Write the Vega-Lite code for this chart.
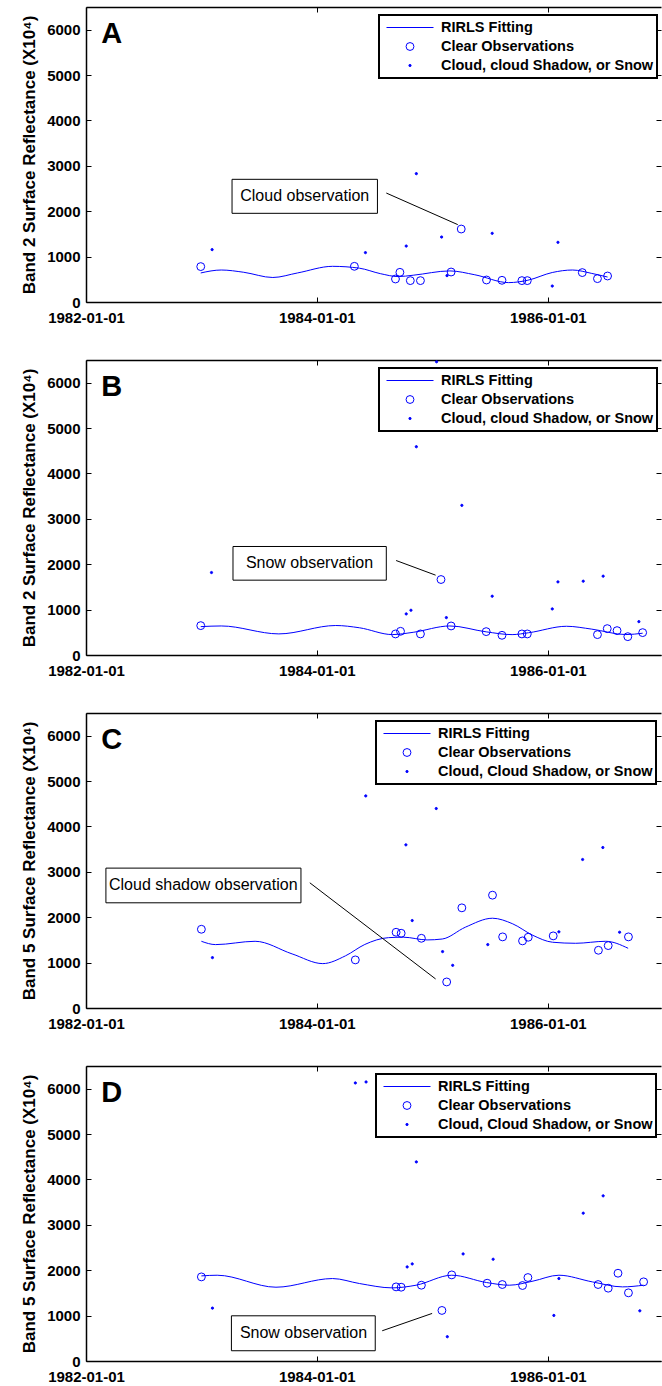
{
  "$schema": "https://vega.github.io/schema/vega-lite/v6.json",
  "background": "white",
  "padding": {"left": 20, "top": 6, "right": 0, "bottom": 0},
  "datasets": {
    "obs": [
      {"panel": "A", "date": "1982/12/30", "value": 780, "kind": "Clear Observations"},
      {"panel": "A", "date": "1984/04/29", "value": 786, "kind": "Clear Observations"},
      {"panel": "A", "date": "1984/09/06", "value": 507, "kind": "Clear Observations"},
      {"panel": "A", "date": "1984/09/20", "value": 654, "kind": "Clear Observations"},
      {"panel": "A", "date": "1984/10/23", "value": 471, "kind": "Clear Observations"},
      {"panel": "A", "date": "1984/11/24", "value": 471, "kind": "Clear Observations"},
      {"panel": "A", "date": "1985/03/01", "value": 661, "kind": "Clear Observations"},
      {"panel": "A", "date": "1985/04/02", "value": 1608, "kind": "Clear Observations"},
      {"panel": "A", "date": "1985/06/21", "value": 485, "kind": "Clear Observations"},
      {"panel": "A", "date": "1985/08/09", "value": 478, "kind": "Clear Observations"},
      {"panel": "A", "date": "1985/10/11", "value": 471, "kind": "Clear Observations"},
      {"panel": "A", "date": "1985/10/28", "value": 471, "kind": "Clear Observations"},
      {"panel": "A", "date": "1986/04/20", "value": 648, "kind": "Clear Observations"},
      {"panel": "A", "date": "1986/06/07", "value": 515, "kind": "Clear Observations"},
      {"panel": "A", "date": "1986/07/09", "value": 573, "kind": "Clear Observations"},
      {"panel": "A", "date": "1983/02/04", "value": 1154, "kind": "Cloud, cloud Shadow, or Snow"},
      {"panel": "A", "date": "1984/06/03", "value": 1088, "kind": "Cloud, cloud Shadow, or Snow"},
      {"panel": "A", "date": "1984/10/10", "value": 1233, "kind": "Cloud, cloud Shadow, or Snow"},
      {"panel": "A", "date": "1984/11/11", "value": 2828, "kind": "Cloud, cloud Shadow, or Snow"},
      {"panel": "A", "date": "1985/01/30", "value": 1432, "kind": "Cloud, cloud Shadow, or Snow"},
      {"panel": "A", "date": "1985/02/16", "value": 581, "kind": "Cloud, cloud Shadow, or Snow"},
      {"panel": "A", "date": "1985/07/09", "value": 1513, "kind": "Cloud, cloud Shadow, or Snow"},
      {"panel": "A", "date": "1986/01/15", "value": 352, "kind": "Cloud, cloud Shadow, or Snow"},
      {"panel": "A", "date": "1986/02/02", "value": 1315, "kind": "Cloud, cloud Shadow, or Snow"},

      {"panel": "B", "date": "1982/12/30", "value": 647, "kind": "Clear Observations"},
      {"panel": "B", "date": "1984/09/06", "value": 464, "kind": "Clear Observations"},
      {"panel": "B", "date": "1984/09/22", "value": 522, "kind": "Clear Observations"},
      {"panel": "B", "date": "1984/11/24", "value": 464, "kind": "Clear Observations"},
      {"panel": "B", "date": "1985/01/28", "value": 1663, "kind": "Clear Observations"},
      {"panel": "B", "date": "1985/03/01", "value": 640, "kind": "Clear Observations"},
      {"panel": "B", "date": "1985/06/20", "value": 515, "kind": "Clear Observations"},
      {"panel": "B", "date": "1985/08/09", "value": 434, "kind": "Clear Observations"},
      {"panel": "B", "date": "1985/10/11", "value": 464, "kind": "Clear Observations"},
      {"panel": "B", "date": "1985/10/28", "value": 464, "kind": "Clear Observations"},
      {"panel": "B", "date": "1986/06/07", "value": 449, "kind": "Clear Observations"},
      {"panel": "B", "date": "1986/07/08", "value": 581, "kind": "Clear Observations"},
      {"panel": "B", "date": "1986/08/08", "value": 537, "kind": "Clear Observations"},
      {"panel": "B", "date": "1986/09/11", "value": 404, "kind": "Clear Observations"},
      {"panel": "B", "date": "1986/10/28", "value": 493, "kind": "Clear Observations"},
      {"panel": "B", "date": "1983/02/02", "value": 1817, "kind": "Cloud, cloud Shadow, or Snow"},
      {"panel": "B", "date": "1984/10/10", "value": 905, "kind": "Cloud, cloud Shadow, or Snow"},
      {"panel": "B", "date": "1984/10/25", "value": 986, "kind": "Cloud, cloud Shadow, or Snow"},
      {"panel": "B", "date": "1984/11/11", "value": 4589, "kind": "Cloud, cloud Shadow, or Snow"},
      {"panel": "B", "date": "1985/01/14", "value": 6461, "kind": "Cloud, cloud Shadow, or Snow"},
      {"panel": "B", "date": "1985/02/14", "value": 824, "kind": "Cloud, cloud Shadow, or Snow"},
      {"panel": "B", "date": "1985/04/04", "value": 3297, "kind": "Cloud, cloud Shadow, or Snow"},
      {"panel": "B", "date": "1985/07/09", "value": 1295, "kind": "Cloud, cloud Shadow, or Snow"},
      {"panel": "B", "date": "1986/01/15", "value": 1015, "kind": "Cloud, cloud Shadow, or Snow"},
      {"panel": "B", "date": "1986/02/02", "value": 1611, "kind": "Cloud, cloud Shadow, or Snow"},
      {"panel": "B", "date": "1986/04/23", "value": 1626, "kind": "Cloud, cloud Shadow, or Snow"},
      {"panel": "B", "date": "1986/06/25", "value": 1737, "kind": "Cloud, cloud Shadow, or Snow"},
      {"panel": "B", "date": "1986/10/16", "value": 735, "kind": "Cloud, cloud Shadow, or Snow"},

      {"panel": "C", "date": "1983/01/01", "value": 1735, "kind": "Clear Observations"},
      {"panel": "C", "date": "1984/05/02", "value": 1060, "kind": "Clear Observations"},
      {"panel": "C", "date": "1984/09/08", "value": 1669, "kind": "Clear Observations"},
      {"panel": "C", "date": "1984/09/24", "value": 1647, "kind": "Clear Observations"},
      {"panel": "C", "date": "1984/11/27", "value": 1536, "kind": "Clear Observations"},
      {"panel": "C", "date": "1985/02/15", "value": 574, "kind": "Clear Observations"},
      {"panel": "C", "date": "1985/04/04", "value": 2207, "kind": "Clear Observations"},
      {"panel": "C", "date": "1985/07/10", "value": 2486, "kind": "Clear Observations"},
      {"panel": "C", "date": "1985/08/11", "value": 1567, "kind": "Clear Observations"},
      {"panel": "C", "date": "1985/10/13", "value": 1479, "kind": "Clear Observations"},
      {"panel": "C", "date": "1985/10/31", "value": 1559, "kind": "Clear Observations"},
      {"panel": "C", "date": "1986/01/18", "value": 1589, "kind": "Clear Observations"},
      {"panel": "C", "date": "1986/06/10", "value": 1272, "kind": "Clear Observations"},
      {"panel": "C", "date": "1986/07/11", "value": 1375, "kind": "Clear Observations"},
      {"panel": "C", "date": "1986/09/13", "value": 1567, "kind": "Clear Observations"},
      {"panel": "C", "date": "1983/02/05", "value": 1110, "kind": "Cloud, Cloud Shadow, or Snow"},
      {"panel": "C", "date": "1984/06/04", "value": 4673, "kind": "Cloud, Cloud Shadow, or Snow"},
      {"panel": "C", "date": "1984/10/09", "value": 3595, "kind": "Cloud, Cloud Shadow, or Snow"},
      {"panel": "C", "date": "1984/10/29", "value": 1927, "kind": "Cloud, Cloud Shadow, or Snow"},
      {"panel": "C", "date": "1985/01/13", "value": 4395, "kind": "Cloud, Cloud Shadow, or Snow"},
      {"panel": "C", "date": "1985/02/02", "value": 1243, "kind": "Cloud, Cloud Shadow, or Snow"},
      {"panel": "C", "date": "1985/03/06", "value": 940, "kind": "Cloud, Cloud Shadow, or Snow"},
      {"panel": "C", "date": "1985/06/25", "value": 1397, "kind": "Cloud, Cloud Shadow, or Snow"},
      {"panel": "C", "date": "1986/02/05", "value": 1678, "kind": "Cloud, Cloud Shadow, or Snow"},
      {"panel": "C", "date": "1986/04/21", "value": 3272, "kind": "Cloud, Cloud Shadow, or Snow"},
      {"panel": "C", "date": "1986/06/24", "value": 3536, "kind": "Cloud, Cloud Shadow, or Snow"},
      {"panel": "C", "date": "1986/08/16", "value": 1669, "kind": "Cloud, Cloud Shadow, or Snow"},

      {"panel": "D", "date": "1983/01/01", "value": 1853, "kind": "Clear Observations"},
      {"panel": "D", "date": "1984/09/08", "value": 1633, "kind": "Clear Observations"},
      {"panel": "D", "date": "1984/09/24", "value": 1626, "kind": "Clear Observations"},
      {"panel": "D", "date": "1984/11/27", "value": 1670, "kind": "Clear Observations"},
      {"panel": "D", "date": "1985/01/31", "value": 1114, "kind": "Clear Observations"},
      {"panel": "D", "date": "1985/03/03", "value": 1897, "kind": "Clear Observations"},
      {"panel": "D", "date": "1985/06/23", "value": 1714, "kind": "Clear Observations"},
      {"panel": "D", "date": "1985/08/10", "value": 1685, "kind": "Clear Observations"},
      {"panel": "D", "date": "1985/10/13", "value": 1663, "kind": "Clear Observations"},
      {"panel": "D", "date": "1985/10/30", "value": 1839, "kind": "Clear Observations"},
      {"panel": "D", "date": "1986/06/09", "value": 1685, "kind": "Clear Observations"},
      {"panel": "D", "date": "1986/07/11", "value": 1604, "kind": "Clear Observations"},
      {"panel": "D", "date": "1986/08/11", "value": 1934, "kind": "Clear Observations"},
      {"panel": "D", "date": "1986/09/13", "value": 1502, "kind": "Clear Observations"},
      {"panel": "D", "date": "1986/10/31", "value": 1744, "kind": "Clear Observations"},
      {"panel": "D", "date": "1983/02/05", "value": 1165, "kind": "Cloud, Cloud Shadow, or Snow"},
      {"panel": "D", "date": "1984/05/02", "value": 6126, "kind": "Cloud, Cloud Shadow, or Snow"},
      {"panel": "D", "date": "1984/06/05", "value": 6148, "kind": "Cloud, Cloud Shadow, or Snow"},
      {"panel": "D", "date": "1984/10/13", "value": 2073, "kind": "Cloud, Cloud Shadow, or Snow"},
      {"panel": "D", "date": "1984/10/29", "value": 2139, "kind": "Cloud, Cloud Shadow, or Snow"},
      {"panel": "D", "date": "1984/11/11", "value": 4387, "kind": "Cloud, Cloud Shadow, or Snow"},
      {"panel": "D", "date": "1985/02/17", "value": 535, "kind": "Cloud, Cloud Shadow, or Snow"},
      {"panel": "D", "date": "1985/04/08", "value": 2359, "kind": "Cloud, Cloud Shadow, or Snow"},
      {"panel": "D", "date": "1985/07/12", "value": 2242, "kind": "Cloud, Cloud Shadow, or Snow"},
      {"panel": "D", "date": "1986/01/20", "value": 1004, "kind": "Cloud, Cloud Shadow, or Snow"},
      {"panel": "D", "date": "1986/02/05", "value": 1817, "kind": "Cloud, Cloud Shadow, or Snow"},
      {"panel": "D", "date": "1986/04/23", "value": 3257, "kind": "Cloud, Cloud Shadow, or Snow"},
      {"panel": "D", "date": "1986/06/25", "value": 3639, "kind": "Cloud, Cloud Shadow, or Snow"},
      {"panel": "D", "date": "1986/10/19", "value": 1106, "kind": "Cloud, Cloud Shadow, or Snow"}
    ],
    "fit": [
      {"panel": "A", "date": "1982/12/30", "value": 640},
      {"panel": "A", "date": "1983/03/05", "value": 705},
      {"panel": "A", "date": "1983/05/15", "value": 655},
      {"panel": "A", "date": "1983/08/15", "value": 540},
      {"panel": "A", "date": "1983/11/01", "value": 640},
      {"panel": "A", "date": "1984/02/20", "value": 786},
      {"panel": "A", "date": "1984/05/15", "value": 745},
      {"panel": "A", "date": "1984/07/20", "value": 625},
      {"panel": "A", "date": "1984/09/15", "value": 560},
      {"panel": "A", "date": "1984/11/01", "value": 590},
      {"panel": "A", "date": "1985/02/25", "value": 685},
      {"panel": "A", "date": "1985/05/15", "value": 600},
      {"panel": "A", "date": "1985/08/30", "value": 427},
      {"panel": "A", "date": "1985/10/30", "value": 480},
      {"panel": "A", "date": "1986/01/15", "value": 650},
      {"panel": "A", "date": "1986/03/20", "value": 705},
      {"panel": "A", "date": "1986/05/20", "value": 630},
      {"panel": "A", "date": "1986/07/09", "value": 550},

      {"panel": "B", "date": "1982/12/30", "value": 625},
      {"panel": "B", "date": "1983/03/05", "value": 640},
      {"panel": "B", "date": "1983/09/03", "value": 465},
      {"panel": "B", "date": "1984/03/01", "value": 650},
      {"panel": "B", "date": "1984/05/15", "value": 600},
      {"panel": "B", "date": "1984/08/27", "value": 450},
      {"panel": "B", "date": "1984/11/01", "value": 500},
      {"panel": "B", "date": "1985/02/25", "value": 640},
      {"panel": "B", "date": "1985/06/20", "value": 510},
      {"panel": "B", "date": "1985/09/10", "value": 449},
      {"panel": "B", "date": "1985/11/01", "value": 490},
      {"panel": "B", "date": "1986/03/01", "value": 633},
      {"panel": "B", "date": "1986/05/20", "value": 570},
      {"panel": "B", "date": "1986/09/05", "value": 450},
      {"panel": "B", "date": "1986/10/28", "value": 480},

      {"panel": "C", "date": "1983/01/01", "value": 1470},
      {"panel": "C", "date": "1983/02/15", "value": 1397},
      {"panel": "C", "date": "1983/06/20", "value": 1470},
      {"panel": "C", "date": "1983/10/15", "value": 1192},
      {"panel": "C", "date": "1984/01/20", "value": 978},
      {"panel": "C", "date": "1984/04/01", "value": 1150},
      {"panel": "C", "date": "1984/06/01", "value": 1400},
      {"panel": "C", "date": "1984/08/15", "value": 1550},
      {"panel": "C", "date": "1984/10/01", "value": 1560},
      {"panel": "C", "date": "1984/12/15", "value": 1500},
      {"panel": "C", "date": "1985/02/01", "value": 1520},
      {"panel": "C", "date": "1985/04/15", "value": 1780},
      {"panel": "C", "date": "1985/07/10", "value": 1978},
      {"panel": "C", "date": "1985/09/12", "value": 1854},
      {"panel": "C", "date": "1985/11/15", "value": 1600},
      {"panel": "C", "date": "1986/01/16", "value": 1449},
      {"panel": "C", "date": "1986/03/30", "value": 1426},
      {"panel": "C", "date": "1986/07/03", "value": 1470},
      {"panel": "C", "date": "1986/09/12", "value": 1316},

      {"panel": "D", "date": "1983/01/01", "value": 1875},
      {"panel": "D", "date": "1983/02/20", "value": 1890},
      {"panel": "D", "date": "1983/08/25", "value": 1626},
      {"panel": "D", "date": "1984/02/20", "value": 1817},
      {"panel": "D", "date": "1984/05/15", "value": 1707},
      {"panel": "D", "date": "1984/08/27", "value": 1611},
      {"panel": "D", "date": "1984/11/10", "value": 1670},
      {"panel": "D", "date": "1985/03/03", "value": 1890},
      {"panel": "D", "date": "1985/06/21", "value": 1729},
      {"panel": "D", "date": "1985/09/01", "value": 1670},
      {"panel": "D", "date": "1985/11/15", "value": 1760},
      {"panel": "D", "date": "1986/02/05", "value": 1890},
      {"panel": "D", "date": "1986/05/22", "value": 1743},
      {"panel": "D", "date": "1986/08/25", "value": 1633},
      {"panel": "D", "date": "1986/10/31", "value": 1670}
    ],
    "notes": [
      {"panel": "A", "label": "Cloud observation", "x1": "1983/04/08", "x2": "1984/07/11", "y1": 1954, "y2": 2703, "tx": "1983/11/24", "ty": 2328, "lx1": "1984/08/08", "ly1": 2401, "lx2": "1985/03/22", "ly2": 1705},
      {"panel": "B", "label": "Snow observation", "x1": "1983/04/11", "x2": "1984/08/08", "y1": 1649, "y2": 2391, "tx": "1983/12/09", "ty": 2020, "lx1": "1984/09/08", "ly1": 2082, "lx2": "1985/01/11", "ly2": 1759},
      {"panel": "C", "label": "Cloud shadow observation", "x1": "1982/03/05", "x2": "1983/11/12", "y1": 2318, "y2": 3082, "tx": "1983/01/07", "ty": 2700, "lx1": "1983/12/10", "ly1": 2759, "lx2": "1985/01/11", "ly2": 640},
      {"panel": "D", "label": "Snow observation", "x1": "1983/04/06", "x2": "1984/07/04", "y1": 226, "y2": 996, "tx": "1983/11/20", "ty": 611, "lx1": "1984/07/26", "ly1": 666, "lx2": "1984/12/31", "ly2": 1048}
    ],
    "letters": [
      {"panel": "A", "letter": "A", "date": "1982/02/18", "value": 5700},
      {"panel": "B", "letter": "B", "date": "1982/02/18", "value": 5700},
      {"panel": "C", "letter": "C", "date": "1982/02/18", "value": 5700},
      {"panel": "D", "letter": "D", "date": "1982/02/18", "value": 5700}
    ]
  },
  "spacing": 58,
  "bounds": "flush",
  "resolve": {
    "scale": {"shape": "independent", "size": "independent", "fill": "independent"},
    "legend": {"shape": "independent", "size": "independent", "fill": "independent"}
  },
  "vconcat": [
    {
      "width": 575, "height": 295,
      "layer": [
        {
          "data": {"name": "fit"},
          "transform": [{"filter": "datum.panel === 'A'"}],
          "mark": {"type": "line", "color": "#0000ff", "strokeWidth": 1, "interpolate": "monotone"},
          "encoding": {
            "x": {"field": "date", "type": "temporal",
                  "scale": {"domain": [{"year": 1982, "month": 1, "date": 1}, {"year": 1986, "month": 12, "date": 25}]},
                  "axis": {"orient": "bottom", "title": null, "format": "%Y-%m-%d", "labelPadding": 13, "labelFlush": false,
                           "values": [{"year": 1982, "month": 1, "date": 1}, {"year": 1984, "month": 1, "date": 1}, {"year": 1986, "month": 1, "date": 1}]}},
            "y": {"field": "value", "type": "quantitative",
                  "scale": {"domain": [0, 6500], "nice": false, "zero": false},
                  "axis": {"orient": "left", "title": "Band 2 Surface Reflectance (X10⁴)", "labelPadding": 11, "format": "d",
                           "values": [0, 1000, 2000, 3000, 4000, 5000, 6000]}}
          }
        },
        {
          "data": {"name": "obs"},
          "transform": [{"filter": "datum.panel === 'A'"}],
          "mark": {"type": "point", "filled": true, "stroke": "#0000ff", "strokeWidth": 1, "opacity": 1},
          "encoding": {
            "x": {"field": "date", "type": "temporal", "axis": null},
            "y": {"field": "value", "type": "quantitative", "axis": null},
            "shape": {"field": "kind", "type": "nominal",
                      "scale": {"domain": ["RIRLS Fitting", "Clear Observations", "Cloud, cloud Shadow, or Snow"], "range": ["stroke", "circle", "circle"]},
                      "legend": {"title": null, "orient": "none", "legendX": 293, "legendY": 8, "encode": {"symbols": {"update": {"stroke": {"value": "#0000ff"}, "strokeWidth": {"value": 1}}}}}},
            "size": {"field": "kind", "type": "nominal",
                     "scale": {"type": "ordinal", "domain": ["RIRLS Fitting", "Clear Observations", "Cloud, cloud Shadow, or Snow"], "range": [2209, 62, 5]},
                     "legend": {"title": null, "orient": "none", "legendX": 293, "legendY": 8, "encode": {"symbols": {"update": {"stroke": {"value": "#0000ff"}, "strokeWidth": {"value": 1}}}}}},
            "fill": {"field": "kind", "type": "nominal",
                     "scale": {"domain": ["RIRLS Fitting", "Clear Observations", "Cloud, cloud Shadow, or Snow"], "range": ["transparent", "transparent", "#0000ff"]},
                     "legend": {"title": null, "orient": "none", "legendX": 293, "legendY": 8, "encode": {"symbols": {"update": {"stroke": {"value": "#0000ff"}, "strokeWidth": {"value": 1}}}}}}
          }
        },
        {
          "data": {"name": "notes"},
          "transform": [{"filter": "datum.panel === 'A'"}],
          "mark": {"type": "rule", "color": "black", "strokeWidth": 1},
          "encoding": {
            "x": {"field": "lx1", "type": "temporal",
                  "axis": {"orient": "top", "title": null, "labels": false,
                           "values": [{"year": 1982, "month": 1, "date": 1}, {"year": 1984, "month": 1, "date": 1}, {"year": 1986, "month": 1, "date": 1}]}},
            "x2": {"field": "lx2"},
            "y": {"field": "ly1", "type": "quantitative",
                  "axis": {"orient": "right", "title": null, "labels": false, "domain": false,
                           "values": [0, 1000, 2000, 3000, 4000, 5000, 6000]}},
            "y2": {"field": "ly2"}
          }
        },
        {
          "data": {"name": "notes"},
          "transform": [{"filter": "datum.panel === 'A'"}],
          "mark": {"type": "rect", "fill": "white", "stroke": "black", "strokeWidth": 1},
          "encoding": {
            "x": {"field": "x1", "type": "temporal", "axis": null},
            "x2": {"field": "x2"},
            "y": {"field": "y1", "type": "quantitative", "axis": null},
            "y2": {"field": "y2"}
          }
        },
        {
          "data": {"name": "notes"},
          "transform": [{"filter": "datum.panel === 'A'"}],
          "mark": {"type": "text", "font": "Liberation Sans", "fontSize": 16, "color": "black"},
          "encoding": {
            "x": {"field": "tx", "type": "temporal", "axis": null},
            "y": {"field": "ty", "type": "quantitative", "axis": null},
            "text": {"field": "label"}
          }
        },
        {
          "data": {"name": "letters"},
          "transform": [{"filter": "datum.panel === 'A'"}],
          "mark": {"type": "text", "font": "Liberation Sans", "fontSize": 29, "fontWeight": "bold", "align": "left", "baseline": "alphabetic", "color": "black"},
          "encoding": {
            "x": {"field": "date", "type": "temporal", "axis": null},
            "y": {"field": "value", "type": "quantitative", "axis": null},
            "text": {"field": "letter"}
          }
        }
      ],
      "resolve": {"axis": {"x": "independent", "y": "independent"}}
    },
    {
      "width": 575, "height": 295,
      "layer": [
        {
          "data": {"name": "fit"},
          "transform": [{"filter": "datum.panel === 'B'"}],
          "mark": {"type": "line", "color": "#0000ff", "strokeWidth": 1, "interpolate": "monotone"},
          "encoding": {
            "x": {"field": "date", "type": "temporal",
                  "scale": {"domain": [{"year": 1982, "month": 1, "date": 1}, {"year": 1986, "month": 12, "date": 25}]},
                  "axis": {"orient": "bottom", "title": null, "format": "%Y-%m-%d", "labelPadding": 13, "labelFlush": false,
                           "values": [{"year": 1982, "month": 1, "date": 1}, {"year": 1984, "month": 1, "date": 1}, {"year": 1986, "month": 1, "date": 1}]}},
            "y": {"field": "value", "type": "quantitative",
                  "scale": {"domain": [0, 6500], "nice": false, "zero": false},
                  "axis": {"orient": "left", "title": "Band 2 Surface Reflectance (X10⁴)", "labelPadding": 11, "format": "d",
                           "values": [0, 1000, 2000, 3000, 4000, 5000, 6000]}}
          }
        },
        {
          "data": {"name": "obs"},
          "transform": [{"filter": "datum.panel === 'B'"}],
          "mark": {"type": "point", "filled": true, "stroke": "#0000ff", "strokeWidth": 1, "opacity": 1},
          "encoding": {
            "x": {"field": "date", "type": "temporal", "axis": null},
            "y": {"field": "value", "type": "quantitative", "axis": null},
            "shape": {"field": "kind", "type": "nominal",
                      "scale": {"domain": ["RIRLS Fitting", "Clear Observations", "Cloud, cloud Shadow, or Snow"], "range": ["stroke", "circle", "circle"]},
                      "legend": {"title": null, "orient": "none", "legendX": 293, "legendY": 8, "encode": {"symbols": {"update": {"stroke": {"value": "#0000ff"}, "strokeWidth": {"value": 1}}}}}},
            "size": {"field": "kind", "type": "nominal",
                     "scale": {"type": "ordinal", "domain": ["RIRLS Fitting", "Clear Observations", "Cloud, cloud Shadow, or Snow"], "range": [2209, 62, 5]},
                     "legend": {"title": null, "orient": "none", "legendX": 293, "legendY": 8, "encode": {"symbols": {"update": {"stroke": {"value": "#0000ff"}, "strokeWidth": {"value": 1}}}}}},
            "fill": {"field": "kind", "type": "nominal",
                     "scale": {"domain": ["RIRLS Fitting", "Clear Observations", "Cloud, cloud Shadow, or Snow"], "range": ["transparent", "transparent", "#0000ff"]},
                     "legend": {"title": null, "orient": "none", "legendX": 293, "legendY": 8, "encode": {"symbols": {"update": {"stroke": {"value": "#0000ff"}, "strokeWidth": {"value": 1}}}}}}
          }
        },
        {
          "data": {"name": "notes"},
          "transform": [{"filter": "datum.panel === 'B'"}],
          "mark": {"type": "rule", "color": "black", "strokeWidth": 1},
          "encoding": {
            "x": {"field": "lx1", "type": "temporal",
                  "axis": {"orient": "top", "title": null, "labels": false,
                           "values": [{"year": 1982, "month": 1, "date": 1}, {"year": 1984, "month": 1, "date": 1}, {"year": 1986, "month": 1, "date": 1}]}},
            "x2": {"field": "lx2"},
            "y": {"field": "ly1", "type": "quantitative",
                  "axis": {"orient": "right", "title": null, "labels": false, "domain": false,
                           "values": [0, 1000, 2000, 3000, 4000, 5000, 6000]}},
            "y2": {"field": "ly2"}
          }
        },
        {
          "data": {"name": "notes"},
          "transform": [{"filter": "datum.panel === 'B'"}],
          "mark": {"type": "rect", "fill": "white", "stroke": "black", "strokeWidth": 1},
          "encoding": {
            "x": {"field": "x1", "type": "temporal", "axis": null},
            "x2": {"field": "x2"},
            "y": {"field": "y1", "type": "quantitative", "axis": null},
            "y2": {"field": "y2"}
          }
        },
        {
          "data": {"name": "notes"},
          "transform": [{"filter": "datum.panel === 'B'"}],
          "mark": {"type": "text", "font": "Liberation Sans", "fontSize": 16, "color": "black"},
          "encoding": {
            "x": {"field": "tx", "type": "temporal", "axis": null},
            "y": {"field": "ty", "type": "quantitative", "axis": null},
            "text": {"field": "label"}
          }
        },
        {
          "data": {"name": "letters"},
          "transform": [{"filter": "datum.panel === 'B'"}],
          "mark": {"type": "text", "font": "Liberation Sans", "fontSize": 29, "fontWeight": "bold", "align": "left", "baseline": "alphabetic", "color": "black"},
          "encoding": {
            "x": {"field": "date", "type": "temporal", "axis": null},
            "y": {"field": "value", "type": "quantitative", "axis": null},
            "text": {"field": "letter"}
          }
        }
      ],
      "resolve": {"axis": {"x": "independent", "y": "independent"}}
    },
    {
      "width": 575, "height": 295,
      "layer": [
        {
          "data": {"name": "fit"},
          "transform": [{"filter": "datum.panel === 'C'"}],
          "mark": {"type": "line", "color": "#0000ff", "strokeWidth": 1, "interpolate": "monotone"},
          "encoding": {
            "x": {"field": "date", "type": "temporal",
                  "scale": {"domain": [{"year": 1982, "month": 1, "date": 1}, {"year": 1986, "month": 12, "date": 25}]},
                  "axis": {"orient": "bottom", "title": null, "format": "%Y-%m-%d", "labelPadding": 13, "labelFlush": false,
                           "values": [{"year": 1982, "month": 1, "date": 1}, {"year": 1984, "month": 1, "date": 1}, {"year": 1986, "month": 1, "date": 1}]}},
            "y": {"field": "value", "type": "quantitative",
                  "scale": {"domain": [0, 6500], "nice": false, "zero": false},
                  "axis": {"orient": "left", "title": "Band 5 Surface Reflectance (X10⁴)", "labelPadding": 11, "format": "d",
                           "values": [0, 1000, 2000, 3000, 4000, 5000, 6000]}}
          }
        },
        {
          "data": {"name": "obs"},
          "transform": [{"filter": "datum.panel === 'C'"}],
          "mark": {"type": "point", "filled": true, "stroke": "#0000ff", "strokeWidth": 1, "opacity": 1},
          "encoding": {
            "x": {"field": "date", "type": "temporal", "axis": null},
            "y": {"field": "value", "type": "quantitative", "axis": null},
            "shape": {"field": "kind", "type": "nominal",
                      "scale": {"domain": ["RIRLS Fitting", "Clear Observations", "Cloud, Cloud Shadow, or Snow"], "range": ["stroke", "circle", "circle"]},
                      "legend": {"title": null, "orient": "none", "legendX": 290, "legendY": 8, "encode": {"symbols": {"update": {"stroke": {"value": "#0000ff"}, "strokeWidth": {"value": 1}}}}}},
            "size": {"field": "kind", "type": "nominal",
                     "scale": {"type": "ordinal", "domain": ["RIRLS Fitting", "Clear Observations", "Cloud, Cloud Shadow, or Snow"], "range": [2209, 62, 5]},
                     "legend": {"title": null, "orient": "none", "legendX": 290, "legendY": 8, "encode": {"symbols": {"update": {"stroke": {"value": "#0000ff"}, "strokeWidth": {"value": 1}}}}}},
            "fill": {"field": "kind", "type": "nominal",
                     "scale": {"domain": ["RIRLS Fitting", "Clear Observations", "Cloud, Cloud Shadow, or Snow"], "range": ["transparent", "transparent", "#0000ff"]},
                     "legend": {"title": null, "orient": "none", "legendX": 290, "legendY": 8, "encode": {"symbols": {"update": {"stroke": {"value": "#0000ff"}, "strokeWidth": {"value": 1}}}}}}
          }
        },
        {
          "data": {"name": "notes"},
          "transform": [{"filter": "datum.panel === 'C'"}],
          "mark": {"type": "rule", "color": "black", "strokeWidth": 1},
          "encoding": {
            "x": {"field": "lx1", "type": "temporal",
                  "axis": {"orient": "top", "title": null, "labels": false,
                           "values": [{"year": 1982, "month": 1, "date": 1}, {"year": 1984, "month": 1, "date": 1}, {"year": 1986, "month": 1, "date": 1}]}},
            "x2": {"field": "lx2"},
            "y": {"field": "ly1", "type": "quantitative",
                  "axis": {"orient": "right", "title": null, "labels": false, "domain": false,
                           "values": [0, 1000, 2000, 3000, 4000, 5000, 6000]}},
            "y2": {"field": "ly2"}
          }
        },
        {
          "data": {"name": "notes"},
          "transform": [{"filter": "datum.panel === 'C'"}],
          "mark": {"type": "rect", "fill": "white", "stroke": "black", "strokeWidth": 1},
          "encoding": {
            "x": {"field": "x1", "type": "temporal", "axis": null},
            "x2": {"field": "x2"},
            "y": {"field": "y1", "type": "quantitative", "axis": null},
            "y2": {"field": "y2"}
          }
        },
        {
          "data": {"name": "notes"},
          "transform": [{"filter": "datum.panel === 'C'"}],
          "mark": {"type": "text", "font": "Liberation Sans", "fontSize": 16, "color": "black"},
          "encoding": {
            "x": {"field": "tx", "type": "temporal", "axis": null},
            "y": {"field": "ty", "type": "quantitative", "axis": null},
            "text": {"field": "label"}
          }
        },
        {
          "data": {"name": "letters"},
          "transform": [{"filter": "datum.panel === 'C'"}],
          "mark": {"type": "text", "font": "Liberation Sans", "fontSize": 29, "fontWeight": "bold", "align": "left", "baseline": "alphabetic", "color": "black"},
          "encoding": {
            "x": {"field": "date", "type": "temporal", "axis": null},
            "y": {"field": "value", "type": "quantitative", "axis": null},
            "text": {"field": "letter"}
          }
        }
      ],
      "resolve": {"axis": {"x": "independent", "y": "independent"}}
    },
    {
      "width": 575, "height": 295,
      "layer": [
        {
          "data": {"name": "fit"},
          "transform": [{"filter": "datum.panel === 'D'"}],
          "mark": {"type": "line", "color": "#0000ff", "strokeWidth": 1, "interpolate": "monotone"},
          "encoding": {
            "x": {"field": "date", "type": "temporal",
                  "scale": {"domain": [{"year": 1982, "month": 1, "date": 1}, {"year": 1986, "month": 12, "date": 25}]},
                  "axis": {"orient": "bottom", "title": null, "format": "%Y-%m-%d", "labelPadding": 13, "labelFlush": false,
                           "values": [{"year": 1982, "month": 1, "date": 1}, {"year": 1984, "month": 1, "date": 1}, {"year": 1986, "month": 1, "date": 1}]}},
            "y": {"field": "value", "type": "quantitative",
                  "scale": {"domain": [0, 6500], "nice": false, "zero": false},
                  "axis": {"orient": "left", "title": "Band 5 Surface Reflectance (X10⁴)", "labelPadding": 11, "format": "d",
                           "values": [0, 1000, 2000, 3000, 4000, 5000, 6000]}}
          }
        },
        {
          "data": {"name": "obs"},
          "transform": [{"filter": "datum.panel === 'D'"}],
          "mark": {"type": "point", "filled": true, "stroke": "#0000ff", "strokeWidth": 1, "opacity": 1},
          "encoding": {
            "x": {"field": "date", "type": "temporal", "axis": null},
            "y": {"field": "value", "type": "quantitative", "axis": null},
            "shape": {"field": "kind", "type": "nominal",
                      "scale": {"domain": ["RIRLS Fitting", "Clear Observations", "Cloud, Cloud Shadow, or Snow"], "range": ["stroke", "circle", "circle"]},
                      "legend": {"title": null, "orient": "none", "legendX": 290, "legendY": 8, "encode": {"symbols": {"update": {"stroke": {"value": "#0000ff"}, "strokeWidth": {"value": 1}}}}}},
            "size": {"field": "kind", "type": "nominal",
                     "scale": {"type": "ordinal", "domain": ["RIRLS Fitting", "Clear Observations", "Cloud, Cloud Shadow, or Snow"], "range": [2209, 62, 5]},
                     "legend": {"title": null, "orient": "none", "legendX": 290, "legendY": 8, "encode": {"symbols": {"update": {"stroke": {"value": "#0000ff"}, "strokeWidth": {"value": 1}}}}}},
            "fill": {"field": "kind", "type": "nominal",
                     "scale": {"domain": ["RIRLS Fitting", "Clear Observations", "Cloud, Cloud Shadow, or Snow"], "range": ["transparent", "transparent", "#0000ff"]},
                     "legend": {"title": null, "orient": "none", "legendX": 290, "legendY": 8, "encode": {"symbols": {"update": {"stroke": {"value": "#0000ff"}, "strokeWidth": {"value": 1}}}}}}
          }
        },
        {
          "data": {"name": "notes"},
          "transform": [{"filter": "datum.panel === 'D'"}],
          "mark": {"type": "rule", "color": "black", "strokeWidth": 1},
          "encoding": {
            "x": {"field": "lx1", "type": "temporal",
                  "axis": {"orient": "top", "title": null, "labels": false,
                           "values": [{"year": 1982, "month": 1, "date": 1}, {"year": 1984, "month": 1, "date": 1}, {"year": 1986, "month": 1, "date": 1}]}},
            "x2": {"field": "lx2"},
            "y": {"field": "ly1", "type": "quantitative",
                  "axis": {"orient": "right", "title": null, "labels": false, "domain": false,
                           "values": [0, 1000, 2000, 3000, 4000, 5000, 6000]}},
            "y2": {"field": "ly2"}
          }
        },
        {
          "data": {"name": "notes"},
          "transform": [{"filter": "datum.panel === 'D'"}],
          "mark": {"type": "rect", "fill": "white", "stroke": "black", "strokeWidth": 1},
          "encoding": {
            "x": {"field": "x1", "type": "temporal", "axis": null},
            "x2": {"field": "x2"},
            "y": {"field": "y1", "type": "quantitative", "axis": null},
            "y2": {"field": "y2"}
          }
        },
        {
          "data": {"name": "notes"},
          "transform": [{"filter": "datum.panel === 'D'"}],
          "mark": {"type": "text", "font": "Liberation Sans", "fontSize": 16, "color": "black"},
          "encoding": {
            "x": {"field": "tx", "type": "temporal", "axis": null},
            "y": {"field": "ty", "type": "quantitative", "axis": null},
            "text": {"field": "label"}
          }
        },
        {
          "data": {"name": "letters"},
          "transform": [{"filter": "datum.panel === 'D'"}],
          "mark": {"type": "text", "font": "Liberation Sans", "fontSize": 29, "fontWeight": "bold", "align": "left", "baseline": "alphabetic", "color": "black"},
          "encoding": {
            "x": {"field": "date", "type": "temporal", "axis": null},
            "y": {"field": "value", "type": "quantitative", "axis": null},
            "text": {"field": "letter"}
          }
        }
      ],
      "resolve": {"axis": {"x": "independent", "y": "independent"}}
    }
  ],
  "config": {
    "font": "Liberation Sans",
    "view": {"stroke": null},
    "axis": {
      "grid": false,
      "domain": true,
      "domainColor": "black",
      "domainWidth": 1.5,
      "tickColor": "black",
      "tickWidth": 1,
      "tickSize": -5,
      "labelFont": "Liberation Sans",
      "labelFontSize": 15,
      "labelFontWeight": "bold",
      "labelColor": "black",
      "labelOverlap": false,
      "titleFont": "Liberation Sans",
      "titleFontSize": 17,
      "titleFontWeight": "bold",
      "titleColor": "black",
      "titlePadding": 8
    },
    "legend": {
      "strokeColor": "black",
      "strokeWidth": 2,
      "fillColor": "white",
      "padding": 3,
      "clipHeight": 19,
      "rowPadding": 0,
      "symbolOffset": 4,
      "labelOffset": 7,
      "labelLimit": 400,
      "labelFont": "Liberation Sans",
      "labelFontSize": 14.5,
      "labelFontWeight": "bold",
      "labelColor": "black",
      "symbolStrokeWidth": 1
    }
  }
}
